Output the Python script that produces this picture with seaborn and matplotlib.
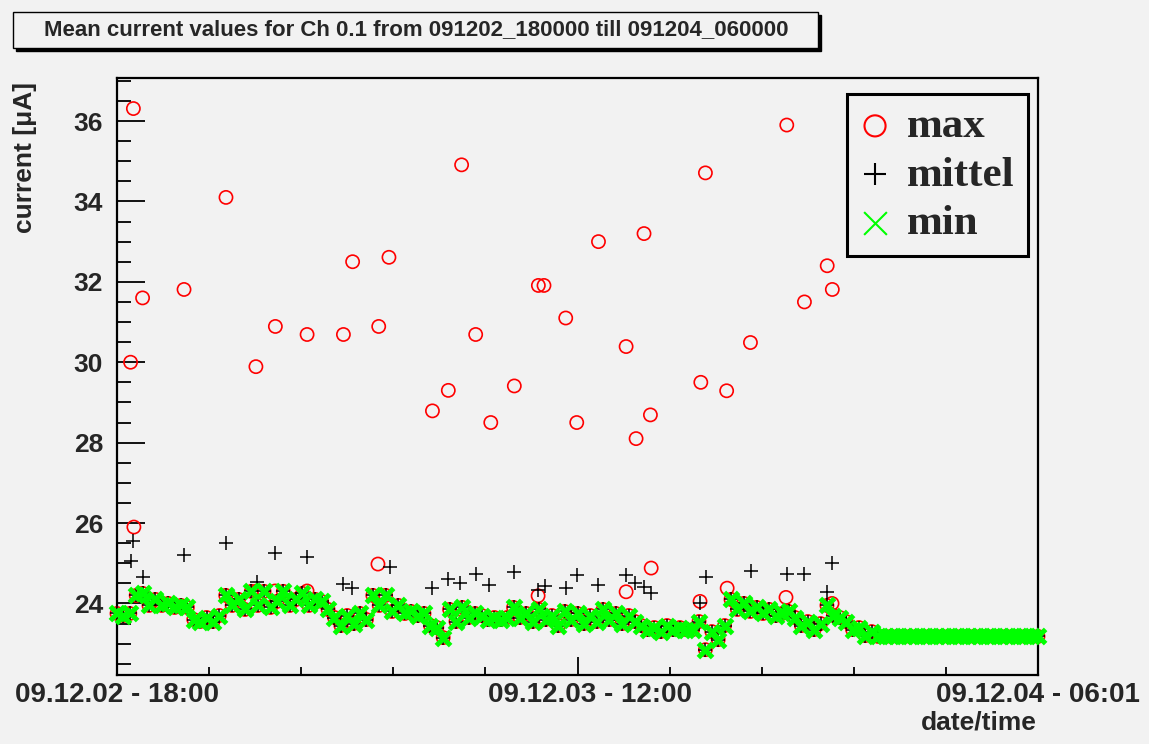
import numpy as np
import pandas as pd
import matplotlib.pyplot as plt
import matplotlib.transforms as mtransforms
import seaborn as sns
from matplotlib.patches import Rectangle
from matplotlib.ticker import MultipleLocator, FixedLocator

# time axis: hours after 09.12.02 18:00, samples every 15 min
band_t = list(np.arange(0, 36.01, 0.25))

# the dense band where min / mittel / max sit on top of each other
band_v = [
    23.75, 23.70, 23.75, 24.20,  24.25, 23.95, 24.10, 23.95,
    24.00, 23.90, 23.95, 23.90,  23.60, 23.55, 23.65, 23.55,
    23.70, 24.20, 23.95, 24.10,  23.85, 24.30, 23.95, 24.30,
    23.90, 24.05, 24.30, 23.95,  24.10, 24.25, 23.95, 24.10,
    24.05, 23.85, 23.65, 23.45,  23.70, 23.50, 23.75, 23.60,
    24.20, 23.95, 24.20, 23.80,  23.95, 23.75, 23.80, 23.70,
    23.75, 23.45, 23.40, 23.15,  23.85, 23.55, 23.90, 23.65,
    23.75, 23.70, 23.60, 23.65,  23.60, 23.65, 23.90, 23.65,
    23.75, 23.55, 23.85, 23.60,  23.70, 23.45, 23.80, 23.60,
    23.75, 23.50, 23.70, 23.55,  23.85, 23.60, 23.75, 23.50,
    23.70, 23.55, 23.45, 23.35,  23.40, 23.30, 23.45, 23.35,
    23.40, 23.35, 23.35, 23.55,  22.85, 23.30, 23.10, 23.45,
    24.10, 23.85, 24.00, 23.80,  23.90, 23.75, 23.85, 23.70,
    23.75, 23.80, 23.65, 23.45,  23.55, 23.35, 23.50, 23.95,
    23.70, 23.65, 23.55, 23.35,  23.40, 23.20, 23.30, 23.18,
] + [23.18] * 25

# max values sticking out of the band
max_t = [0.64, 1.00, 0.53, 0.66, 2.62, 4.26, 5.43, 6.19, 7.43, 8.85, 9.21,
         10.23, 10.20, 10.63, 12.33, 12.95, 13.47, 14.02, 14.61, 15.53,
         16.47, 16.46, 16.69, 17.54, 17.97, 18.82, 19.90, 19.90, 20.29,
         20.60, 20.85, 20.88, 22.82, 22.79, 23.00, 23.83, 23.85, 24.76,
         26.18, 26.15, 26.87, 27.76, 27.96, 27.95, 5.47, 6.18, 7.43]
max_v = [36.31, 31.60, 30.00, 25.90, 31.81, 34.10, 29.89, 30.89, 30.69,
         30.69, 32.50, 30.89, 24.98, 32.61, 28.79, 29.30, 34.91, 30.69,
         28.50, 29.41, 31.91, 24.19, 31.91, 31.10, 28.50, 33.00, 30.39,
         24.29, 28.10, 33.20, 28.69, 24.88, 29.50, 24.05, 34.71, 29.29,
         24.38, 30.49, 35.90, 24.15, 31.50, 32.40, 31.81, 24.00, 24.31,
         24.31, 24.31]

# mittel values above the band
mit_t = [0.63, 0.55, 1.02, 2.62, 4.26, 5.47, 6.18, 7.43, 8.84, 9.19, 10.67,
         12.31, 12.94, 13.41, 14.03, 14.54, 15.52, 16.46, 16.73, 17.55,
         17.98, 18.80, 19.90, 20.25, 20.60, 20.88, 22.79, 23.03, 24.79,
         26.19, 26.86, 27.76, 27.95]
mit_v = [25.55, 25.05, 24.66, 25.20, 25.50, 24.53, 25.25, 25.15, 24.48,
         24.38, 24.90, 24.38, 24.60, 24.50, 24.73, 24.46, 24.78, 24.34,
         24.43, 24.38, 24.71, 24.46, 24.71, 24.51, 24.41, 24.26, 24.01,
         24.66, 24.81, 24.73, 24.73, 24.29, 25.00]

x_ticks = [0, 18, 36]
x_labels = ['09.12.02 - 18:00', '09.12.03 - 12:00', '09.12.04 - 06:01']

bg = '#f2f2f2'
sns.set_style('ticks', {'axes.facecolor': bg, 'figure.facecolor': bg})
plt.rcParams['font.family'] = ['Liberation Sans', 'DejaVu Sans']
plt.rcParams['font.weight'] = 'bold'

W, H = 1149, 744
fig = plt.figure(figsize=(W / 100, H / 100), dpi=100, facecolor=bg)
ax = fig.add_axes([117 / W, 1 - 675 / H, 921 / W, 597 / H])
ax.set_facecolor(bg)

sns.scatterplot(x=band_t + max_t, y=band_v + max_v, ax=ax, marker='o', s=90,
                facecolor='none', edgecolor='#ff0000', linewidth=1.2,
                label='max', clip_on=False, zorder=3)
sns.scatterplot(x=band_t + mit_t, y=band_v + mit_v, ax=ax, marker='+', s=90,
                color='black', linewidth=1.1, label='mittel', clip_on=False,
                zorder=4)
sns.scatterplot(x=band_t, y=band_v, ax=ax, marker='x', s=105, color='#00ff00',
                linewidth=3.6, label='min', clip_on=False, zorder=5)

ax.set_xlim(0, 36)
ax.set_ylim(22.22, 37.07)
ax.xaxis.set_major_locator(FixedLocator(x_ticks))
ax.set_xticklabels(x_labels)
ax.xaxis.set_minor_locator(MultipleLocator(3.6))
ax.yaxis.set_major_locator(MultipleLocator(2))
ax.yaxis.set_minor_locator(MultipleLocator(0.5))
ax.tick_params(which='both', direction='in', top=False, right=False,
               color='black', width=1.3)
ax.tick_params(axis='y', which='major', length=20, pad=10, labelsize=19)
ax.tick_params(axis='y', which='minor', length=10)
ax.tick_params(axis='x', which='major', length=13, pad=5, labelsize=20)
ax.tick_params(axis='x', which='minor', length=6)
for sp in ax.spines.values():
    sp.set_visible(True)
    sp.set_linewidth(1.6)
    sp.set_color('black')
ax.set_xlabel('')
ax.set_ylabel('')

# middle date label sits a little right of its tick, as in the original
mid = ax.get_xticklabels()[1]
mid.set_transform(mid.get_transform() +
                  mtransforms.ScaledTranslation(0.12, 0, fig.dpi_scale_trans))

leg = ax.legend(loc='upper right', bbox_to_anchor=(0.989, 0.973),
                borderaxespad=0, frameon=True, fancybox=False,
                edgecolor='black', facecolor=bg, framealpha=1,
                prop={'family': 'Liberation Serif', 'weight': 'bold', 'size': 31},
                markerscale=1.6, handlelength=0.7, handletextpad=0.4,
                labelspacing=0.22, borderpad=0.3)
leg.get_frame().set_linewidth(2.2)
# thinner strokes for the legend symbols
for h in leg.legend_handles:
    h.set_linewidth(1.5)

# title box with shadow
fig.add_artist(Rectangle((16 / W, 1 - 51 / H), 805 / W, 36 / H,
                         transform=fig.transFigure, facecolor='black',
                         edgecolor='black'))
fig.add_artist(Rectangle((13 / W, 1 - 48 / H), 805 / W, 36 / H,
                         transform=fig.transFigure, facecolor=bg,
                         edgecolor='black', linewidth=1))
fig.text(416 / W, 1 - 30 / H,
         'Mean current values for Ch 0.1 from 091202_180000 till 091204_060000',
         ha='center', va='center', fontsize=16, weight='bold')

fig.text(1037 / W, 1 - 722 / H, 'date/time', ha='right', va='center',
         fontsize=19, weight='bold')
fig.text(37 / W, 1 - 82 / H, 'current [μA]', rotation=90, ha='right',
         va='top', fontsize=19, weight='bold')

fig.savefig('out.png', dpi=100, facecolor=bg)
